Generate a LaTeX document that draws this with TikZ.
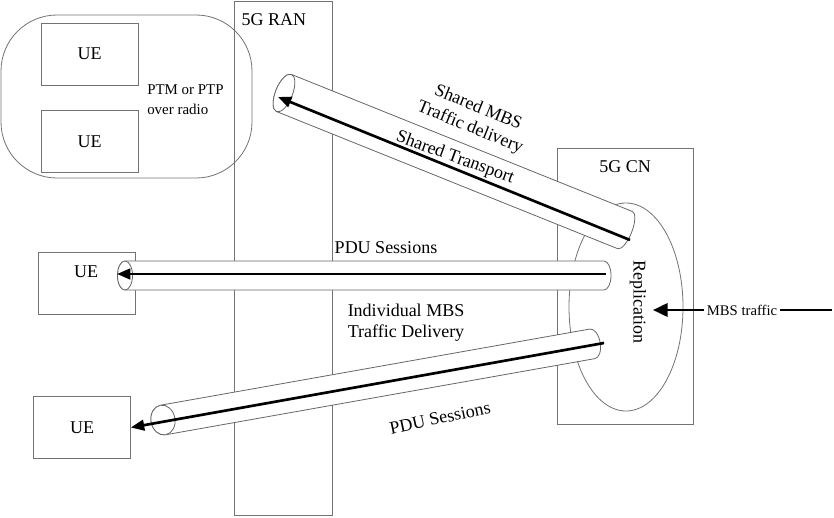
\documentclass[tikz,border=0pt]{standalone}
\usepackage{fontspec}
\setmainfont{Liberation Serif}
\usetikzlibrary{arrows.meta}
\newcommand\biglbl{\fontsize{13.5}{16}\selectfont}
\begin{document}
\begin{tikzpicture}[x=0.75pt,y=-0.75pt,
  box/.style={draw=black!55, line width=0.6pt},
  uebox/.style={box, minimum width=72.75pt, minimum height=46.5pt, inner sep=0pt, font=\biglbl},
  tube/.style={draw=black!60, fill=white, line width=0.6pt},
  flow/.style={line width=2pt, -{Triangle[length=10pt,width=8pt]}},
  lbl/.style={font=\biglbl, inner sep=1pt},
]
\useasboundingbox (0,0) rectangle (834,517);

% UE group
\draw[box, rounded corners=42pt] (1,15) rectangle (252,178);
\node[uebox] (ue1) at (89.5,54) {UE};
\node[uebox] (ue2) at (89.5,141.5) {UE};
\node[font=\fontsize{11.2}{15}\selectfont, align=left, anchor=west, inner sep=0pt] (ptm) at (147,100) {PTM or PTP\\over radio};
\node[uebox] (ue3) at (86.5,283.5) {};
\node[lbl] (ue3t) at (86,272) {UE};
\node[uebox] (ue4) at (82,427.5) {UE};

% RAN and CN
\draw[box] (234,1) rectangle (332,515);
\node[lbl, anchor=west] (ran) at (240,20) {5G RAN};
\draw[box] (557,148) rectangle (693,424);
\node[lbl] (cn) at (625,167) {5G CN};
\draw[box] (626,307) ellipse [x radius=57, y radius=104];
\node[lbl, rotate=-90] (rep) at (638,302) {Replication};

% top tube
\begin{scope}[shift={(284,93)}, rotate=-21.9]
  \filldraw[tube] (0,-20) -- (367.5,-20) arc[start angle=-90, end angle=90, x radius=7, y radius=20]
    -- (0,20) arc[start angle=90, end angle=270, x radius=8.5, y radius=20] -- cycle;
  \draw[tube] (0,0) ellipse [x radius=8.5, y radius=20];
\end{scope}
% middle tube
\begin{scope}[shift={(125,275.5)}]
  \filldraw[tube] (0,-14.5) -- (479,-14.5) arc[start angle=-90, end angle=90, x radius=7, y radius=14.5]
    -- (0,14.5) arc[start angle=90, end angle=270, x radius=7.5, y radius=14.5] -- cycle;
  \draw[tube] (0,0) ellipse [x radius=7.5, y radius=14.5];
\end{scope}
% bottom tube
\begin{scope}[shift={(163,420)}, rotate=10.06]
  \filldraw[tube] (0,-15) -- (436,-15) arc[start angle=-90, end angle=90, x radius=8, y radius=15]
    -- (0,15) arc[start angle=90, end angle=270, x radius=12, y radius=15] -- cycle;
  \draw[tube] (0,0) ellipse [x radius=12, y radius=15];
\end{scope}

% flows
\coordinate (t1s) at (630,240);
\coordinate (t1e) at (278,97);
\coordinate (t2s) at (606,274);
\coordinate (t2e) at (117,274);
\coordinate (t3s) at (604,343);
\draw[flow] (t1s) -- (t1e);
\draw[flow] (t2s) -- (t2e);
\draw[flow] (t3s) -- (ue4.east);

% labels
\node[lbl] (pdu1) at (386,248) {PDU Sessions};
\node[lbl, align=center] (ind) at (406,323) {Individual MBS\\Traffic Delivery};
\node[lbl, rotate=12] (pdu2) at (440,418) {PDU Sessions};
\node[lbl, align=center, rotate=-22] (smbs) at (474,118) {Shared MBS\\Traffic delivery};
\node[lbl, rotate=-20] (stran) at (455,158) {Shared Transport};

% MBS traffic input
\node[font=\fontsize{11}{13}\selectfont, inner xsep=2pt, inner ysep=0pt] (mbs) at (742,310) {MBS traffic};
\coordinate (mbsin) at (832,310);
\coordinate (reptip) at (653,310);
\draw[line width=2pt] (mbsin) -- (mbs.east);
\draw[line width=2pt, -{Triangle[length=11pt,width=10pt]}] (mbs.west) -- (reptip);
\end{tikzpicture}
\end{document}
